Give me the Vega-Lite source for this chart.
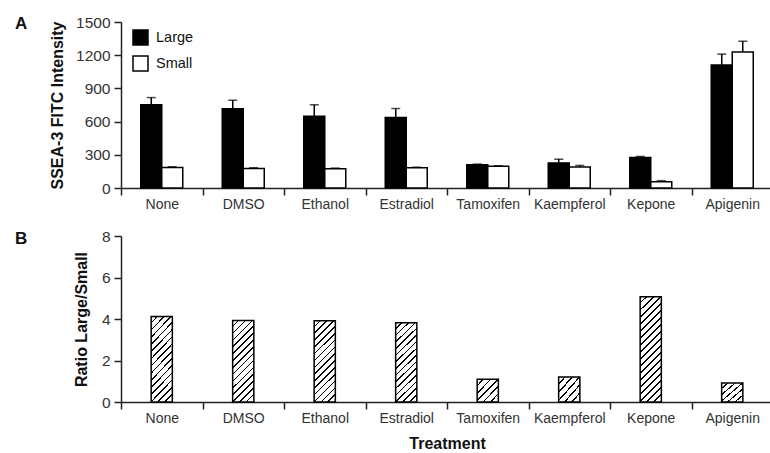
{
  "$schema": "https://vega.github.io/schema/vega-lite/v6.json",
  "background": "white",
  "padding": {"left": 15, "top": 15, "right": 0, "bottom": 5},
  "bounds": "flush",
  "spacing": 48,
  "config": {
    "view": {"stroke": null},
    "font": "Liberation Sans",
    "axis": {"labelFont": "Liberation Sans", "labelFontSize": 14, "labelColor": "#333", "titleFont": "Liberation Sans", "titleFontSize": 16, "titleFontWeight": "bold", "titleColor": "#111", "domainColor": "#222", "domainWidth": 1.5, "tickColor": "#222", "tickWidth": 1.5, "grid": false},
    "axisX": {"tickSize": 7, "labelPadding": 2, "labelAngle": 0, "tickBand": "extent"},
    "axisY": {"tickSize": 7, "labelPadding": 4, "labelFontSize": 15.5, "format": "d"},
    "title": {"font": "Liberation Sans", "fontSize": 17, "fontWeight": "bold", "color": "#111", "anchor": "start", "frame": "group"}
  },
  "vconcat": [
    {
      "width": 652,
      "height": 166,
      "title": {"text": "A", "dx": -106, "offset": -18},
      "data": {"values": [
        {"treatment": "None", "size": "Large", "value": 752, "upper": 817},
        {"treatment": "None", "size": "Small", "value": 186, "upper": 192},
        {"treatment": "DMSO", "size": "Large", "value": 716, "upper": 793},
        {"treatment": "DMSO", "size": "Small", "value": 177, "upper": 183},
        {"treatment": "Ethanol", "size": "Large", "value": 649, "upper": 752},
        {"treatment": "Ethanol", "size": "Small", "value": 173, "upper": 180},
        {"treatment": "Estradiol", "size": "Large", "value": 638, "upper": 718},
        {"treatment": "Estradiol", "size": "Small", "value": 182, "upper": 188},
        {"treatment": "Tamoxifen", "size": "Large", "value": 209, "upper": 216},
        {"treatment": "Tamoxifen", "size": "Small", "value": 197, "upper": 201},
        {"treatment": "Kaempferol", "size": "Large", "value": 227, "upper": 260},
        {"treatment": "Kaempferol", "size": "Small", "value": 189, "upper": 204},
        {"treatment": "Kepone", "size": "Large", "value": 276, "upper": 285},
        {"treatment": "Kepone", "size": "Small", "value": 57, "upper": 66},
        {"treatment": "Apigenin", "size": "Large", "value": 1111, "upper": 1210},
        {"treatment": "Apigenin", "size": "Small", "value": 1230, "upper": 1326}
      ]},
      "encoding": {
        "x": {"field": "treatment", "type": "nominal", "sort": ["None", "DMSO", "Ethanol", "Estradiol", "Tamoxifen", "Kaempferol", "Kepone", "Apigenin"], "scale": {"paddingInner": 0, "paddingOuter": 0}, "axis": {"title": null}},
        "xOffset": {"field": "size", "type": "nominal", "sort": ["Large", "Small"], "scale": {"paddingInner": 0, "paddingOuter": 0.94}}
      },
      "layer": [
        {
          "mark": {"type": "rule", "strokeWidth": 1.5, "color": "black"},
          "encoding": {
            "y": {"field": "value", "type": "quantitative", "scale": {"domain": [0, 1500]}, "axis": {"values": [0, 300, 600, 900, 1200, 1500], "title": "SSEA-3 FITC Intensity", "titlePadding": 10}},
            "y2": {"field": "upper"}
          }
        },
        {
          "mark": {"type": "tick", "thickness": 1.5, "size": 9, "color": "black", "orient": "horizontal"},
          "encoding": {
            "y": {"field": "upper", "type": "quantitative", "scale": {"domain": [0, 1500]}, "axis": {"values": [0, 300, 600, 900, 1200, 1500], "title": "SSEA-3 FITC Intensity", "titlePadding": 10}}
          }
        },
        {
          "mark": {"type": "bar", "stroke": "black", "strokeWidth": 1.5},
          "encoding": {
            "y": {"field": "value", "type": "quantitative", "scale": {"domain": [0, 1500]}, "axis": {"values": [0, 300, 600, 900, 1200, 1500], "title": "SSEA-3 FITC Intensity", "titlePadding": 10}},
            "fill": {"field": "size", "type": "nominal", "scale": {"domain": ["Large", "Small"], "range": ["black", "white"]},
              "legend": {"title": null, "orient": "none", "legendX": 11, "legendY": 7, "symbolType": "square", "symbolSize": 225, "symbolStrokeColor": "black", "symbolStrokeWidth": 1.5, "labelFont": "Liberation Sans", "labelFontSize": 14.5, "labelColor": "#111", "labelOffset": 7, "rowPadding": 5, "padding": 0}}
          }
        }
      ]
    },
    {
      "width": 652,
      "height": 166,
      "title": {"text": "B", "dx": -106, "offset": -19},
      "data": {"values": [
        {"treatment": "None", "ratio": 4.12},
        {"treatment": "DMSO", "ratio": 3.93},
        {"treatment": "Ethanol", "ratio": 3.92},
        {"treatment": "Estradiol", "ratio": 3.82},
        {"treatment": "Tamoxifen", "ratio": 1.1},
        {"treatment": "Kaempferol", "ratio": 1.21},
        {"treatment": "Kepone", "ratio": 5.07},
        {"treatment": "Apigenin", "ratio": 0.92}
      ]},
      "mark": {"type": "bar", "stroke": "black", "strokeWidth": 1.5, "width": {"band": 0.26}},
      "encoding": {
        "x": {"field": "treatment", "type": "nominal", "sort": ["None", "DMSO", "Ethanol", "Estradiol", "Tamoxifen", "Kaempferol", "Kepone", "Apigenin"], "scale": {"paddingInner": 0, "paddingOuter": 0}, "axis": {"title": "Treatment", "titlePadding": 10}},
        "y": {"field": "ratio", "type": "quantitative", "scale": {"domain": [0, 8]}, "axis": {"values": [0, 2, 4, 6, 8], "title": "Ratio Large/Small", "titlePadding": 12}},
        "fill": {
          "condition": [
            {"test": "indexof(['None','DMSO','Ethanol','Estradiol'], datum.treatment) >= 0", "value": {"gradient": "linear", "x1": 0, "y1": 0, "x2": 0.306, "y2": 1.18, "stops": [
              {"offset": 0, "color": "#fff"}, {"offset": 0.0513, "color": "#fff"}, {"offset": 0.0513, "color": "#000"}, {"offset": 0.0667, "color": "#000"},
              {"offset": 0.0667, "color": "#fff"}, {"offset": 0.118, "color": "#fff"}, {"offset": 0.118, "color": "#000"}, {"offset": 0.1333, "color": "#000"},
              {"offset": 0.1333, "color": "#fff"}, {"offset": 0.1847, "color": "#fff"}, {"offset": 0.1847, "color": "#000"}, {"offset": 0.2, "color": "#000"},
              {"offset": 0.2, "color": "#fff"}, {"offset": 0.2513, "color": "#fff"}, {"offset": 0.2513, "color": "#000"}, {"offset": 0.2667, "color": "#000"},
              {"offset": 0.2667, "color": "#fff"}, {"offset": 0.318, "color": "#fff"}, {"offset": 0.318, "color": "#000"}, {"offset": 0.3333, "color": "#000"},
              {"offset": 0.3333, "color": "#fff"}, {"offset": 0.3847, "color": "#fff"}, {"offset": 0.3847, "color": "#000"}, {"offset": 0.4, "color": "#000"},
              {"offset": 0.4, "color": "#fff"}, {"offset": 0.4513, "color": "#fff"}, {"offset": 0.4513, "color": "#000"}, {"offset": 0.4667, "color": "#000"},
              {"offset": 0.4667, "color": "#fff"}, {"offset": 0.518, "color": "#fff"}, {"offset": 0.518, "color": "#000"}, {"offset": 0.5333, "color": "#000"},
              {"offset": 0.5333, "color": "#fff"}, {"offset": 0.5847, "color": "#fff"}, {"offset": 0.5847, "color": "#000"}, {"offset": 0.6, "color": "#000"},
              {"offset": 0.6, "color": "#fff"}, {"offset": 0.6513, "color": "#fff"}, {"offset": 0.6513, "color": "#000"}, {"offset": 0.6667, "color": "#000"},
              {"offset": 0.6667, "color": "#fff"}, {"offset": 0.718, "color": "#fff"}, {"offset": 0.718, "color": "#000"}, {"offset": 0.7333, "color": "#000"},
              {"offset": 0.7333, "color": "#fff"}, {"offset": 0.7847, "color": "#fff"}, {"offset": 0.7847, "color": "#000"}, {"offset": 0.8, "color": "#000"},
              {"offset": 0.8, "color": "#fff"}, {"offset": 0.8513, "color": "#fff"}, {"offset": 0.8513, "color": "#000"}, {"offset": 0.8667, "color": "#000"},
              {"offset": 0.8667, "color": "#fff"}, {"offset": 0.918, "color": "#fff"}, {"offset": 0.918, "color": "#000"}, {"offset": 0.9333, "color": "#000"},
              {"offset": 0.9333, "color": "#fff"}, {"offset": 0.9847, "color": "#fff"}, {"offset": 0.9847, "color": "#000"}, {"offset": 1, "color": "#000"}
            ]}},
            {"test": "datum.treatment === 'Kepone'", "value": {"gradient": "linear", "x1": 0, "y1": 0, "x2": 0.231, "y2": 1.154, "stops": [
              {"offset": 0, "color": "#fff"}, {"offset": 0.0428, "color": "#fff"}, {"offset": 0.0428, "color": "#000"}, {"offset": 0.0556, "color": "#000"},
              {"offset": 0.0556, "color": "#fff"}, {"offset": 0.0983, "color": "#fff"}, {"offset": 0.0983, "color": "#000"}, {"offset": 0.1111, "color": "#000"},
              {"offset": 0.1111, "color": "#fff"}, {"offset": 0.1539, "color": "#fff"}, {"offset": 0.1539, "color": "#000"}, {"offset": 0.1667, "color": "#000"},
              {"offset": 0.1667, "color": "#fff"}, {"offset": 0.2094, "color": "#fff"}, {"offset": 0.2094, "color": "#000"}, {"offset": 0.2222, "color": "#000"},
              {"offset": 0.2222, "color": "#fff"}, {"offset": 0.265, "color": "#fff"}, {"offset": 0.265, "color": "#000"}, {"offset": 0.2778, "color": "#000"},
              {"offset": 0.2778, "color": "#fff"}, {"offset": 0.3206, "color": "#fff"}, {"offset": 0.3206, "color": "#000"}, {"offset": 0.3333, "color": "#000"},
              {"offset": 0.3333, "color": "#fff"}, {"offset": 0.3761, "color": "#fff"}, {"offset": 0.3761, "color": "#000"}, {"offset": 0.3889, "color": "#000"},
              {"offset": 0.3889, "color": "#fff"}, {"offset": 0.4317, "color": "#fff"}, {"offset": 0.4317, "color": "#000"}, {"offset": 0.4444, "color": "#000"},
              {"offset": 0.4444, "color": "#fff"}, {"offset": 0.4872, "color": "#fff"}, {"offset": 0.4872, "color": "#000"}, {"offset": 0.5, "color": "#000"},
              {"offset": 0.5, "color": "#fff"}, {"offset": 0.5428, "color": "#fff"}, {"offset": 0.5428, "color": "#000"}, {"offset": 0.5556, "color": "#000"},
              {"offset": 0.5556, "color": "#fff"}, {"offset": 0.5983, "color": "#fff"}, {"offset": 0.5983, "color": "#000"}, {"offset": 0.6111, "color": "#000"},
              {"offset": 0.6111, "color": "#fff"}, {"offset": 0.6539, "color": "#fff"}, {"offset": 0.6539, "color": "#000"}, {"offset": 0.6667, "color": "#000"},
              {"offset": 0.6667, "color": "#fff"}, {"offset": 0.7094, "color": "#fff"}, {"offset": 0.7094, "color": "#000"}, {"offset": 0.7222, "color": "#000"},
              {"offset": 0.7222, "color": "#fff"}, {"offset": 0.765, "color": "#fff"}, {"offset": 0.765, "color": "#000"}, {"offset": 0.7778, "color": "#000"},
              {"offset": 0.7778, "color": "#fff"}, {"offset": 0.8206, "color": "#fff"}, {"offset": 0.8206, "color": "#000"}, {"offset": 0.8333, "color": "#000"},
              {"offset": 0.8333, "color": "#fff"}, {"offset": 0.8761, "color": "#fff"}, {"offset": 0.8761, "color": "#000"}, {"offset": 0.8889, "color": "#000"},
              {"offset": 0.8889, "color": "#fff"}, {"offset": 0.9317, "color": "#fff"}, {"offset": 0.9317, "color": "#000"}, {"offset": 0.9444, "color": "#000"},
              {"offset": 0.9444, "color": "#fff"}, {"offset": 0.9872, "color": "#fff"}, {"offset": 0.9872, "color": "#000"}, {"offset": 1, "color": "#000"}
            ]}}
          ],
          "value": {"gradient": "linear", "x1": 0, "y1": 0, "x2": 0.976, "y2": 1.023, "stops": [
            {"offset": 0, "color": "#fff"}, {"offset": 0.1283, "color": "#fff"}, {"offset": 0.1283, "color": "#000"}, {"offset": 0.1667, "color": "#000"},
            {"offset": 0.1667, "color": "#fff"}, {"offset": 0.295, "color": "#fff"}, {"offset": 0.295, "color": "#000"}, {"offset": 0.3333, "color": "#000"},
            {"offset": 0.3333, "color": "#fff"}, {"offset": 0.4617, "color": "#fff"}, {"offset": 0.4617, "color": "#000"}, {"offset": 0.5, "color": "#000"},
            {"offset": 0.5, "color": "#fff"}, {"offset": 0.6283, "color": "#fff"}, {"offset": 0.6283, "color": "#000"}, {"offset": 0.6667, "color": "#000"},
            {"offset": 0.6667, "color": "#fff"}, {"offset": 0.795, "color": "#fff"}, {"offset": 0.795, "color": "#000"}, {"offset": 0.8333, "color": "#000"},
            {"offset": 0.8333, "color": "#fff"}, {"offset": 0.9617, "color": "#fff"}, {"offset": 0.9617, "color": "#000"}, {"offset": 1, "color": "#000"}
          ]}
        }
      }
    }
  ]
}
